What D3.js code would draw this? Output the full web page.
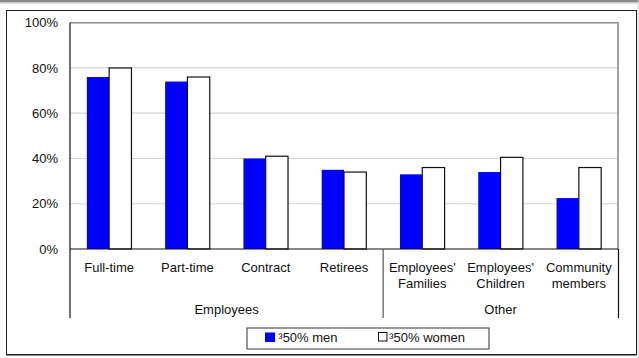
<!DOCTYPE html>
<html>
<head>
<meta charset="utf-8">
<script src="https://cdn.jsdelivr.net/npm/d3@7"></script>
<style>
  html, body { margin: 0; padding: 0; background: #fff; }
  svg { display: block; font-family: "Liberation Sans", Arial, sans-serif; }
</style>
</head>
<body>
<svg id="chart" width="639" height="358"></svg>
<script>
// Share of members by participant type
const categories = ["Full-time", "Part-time", "Contract", "Retirees",
  "Employees' Families", "Employees' Children", "Community members"];
const categoryLines = [["Full-time"], ["Part-time"], ["Contract"], ["Retirees"],
  ["Employees'", "Families"], ["Employees'", "Children"], ["Community", "members"]];
const categoryGroup = ["Employees", "Employees", "Employees", "Employees", "Other", "Other", "Other"];
const groupNames = ["Employees", "Other"];
const seriesNames = ["³50% men", "³50% women"];
const menValues = [76, 74, 40, 35, 33, 34, 22.5];
const womenValues = [80, 76, 41, 34, 36, 40.5, 36];
const yTicks = [0, 20, 40, 60, 80, 100];

const FS = 13;
const svg = d3.select("#chart");

// Page frame
svg.append("rect").attr("x", 0).attr("y", 0).attr("width", 639).attr("height", 2.5).attr("fill", "#8a8a8a");
svg.append("line").attr("x1", 0).attr("x2", 639).attr("y1", 3.5).attr("y2", 3.5).attr("stroke", "#e4e4e4");
svg.append("line").attr("x1", 638).attr("x2", 638).attr("y1", 0).attr("y2", 358).attr("stroke", "#d0d0d0");
svg.append("rect").attr("x", 6.5).attr("y", 10.5).attr("width", 630).attr("height", 344)
  .attr("fill", "none").attr("stroke", "#222").attr("stroke-width", 1);
svg.append("line").attr("x1", 6.5).attr("x2", 636.5).attr("y1", 355.5).attr("y2", 355.5).attr("stroke", "#888");

const plot = { left: 70, right: 618, top: 22.7, bottom: 249 };

const x = d3.scaleBand().domain(categories).range([plot.left, plot.right])
  .paddingInner(0.43).paddingOuter(0.215);
const xs = d3.scaleBand().domain(seriesNames).range([0, x.bandwidth()]);
const y = d3.scaleLinear().domain([0, 100]).range([plot.bottom, plot.top]);

// Gridlines
svg.append("g").selectAll("line").data(yTicks.filter(d => d > 0 && d < 100)).join("line")
  .attr("x1", plot.left).attr("x2", plot.right)
  .attr("y1", d => y(d)).attr("y2", d => y(d))
  .attr("stroke", "#d4d4d4").attr("stroke-width", 1.2);

// Plot frame (top & right)
svg.append("path")
  .attr("d", `M${plot.left},${y(100)}H${plot.right}V${plot.bottom}`)
  .attr("fill", "none").attr("stroke", "#8c8c8c").attr("stroke-width", 1.6);

// Y axis labels
const yAxis = d3.axisLeft(y).tickValues(yTicks).tickFormat(d => d + "%").tickSize(0).tickPadding(12);
const gy = svg.append("g").attr("transform", `translate(${plot.left},0)`).call(yAxis);
gy.select(".domain").remove();
gy.selectAll("text").attr("font-size", FS).attr("fill", "#111")
  .attr("font-family", "Liberation Sans, Arial, sans-serif");

// Bars
const rows = categories.map((c, i) => ({ c, vals: [menValues[i], womenValues[i]] }));
const fills = ["#0000ff", "#ffffff"];
const groups = svg.append("g").selectAll("g").data(rows).join("g")
  .attr("transform", d => `translate(${x(d.c)},0)`);
groups.selectAll("rect").data(d => d.vals.map((v, k) => ({ v, k }))).join("rect")
  .attr("x", d => xs(seriesNames[d.k]))
  .attr("width", xs.bandwidth())
  .attr("y", d => y(d.v))
  .attr("height", d => y(0) - y(d.v))
  .attr("fill", d => fills[d.k])
  .attr("stroke", d => d.k === 1 ? "#111" : "none")
  .attr("stroke-width", 1.2);

// Baseline and category axis
const step = x.step();
const edge = i => (i === 0 ? plot.left : x(categories[i]) - step * x.paddingInner() / 2);
svg.append("line").attr("x1", plot.left).attr("x2", plot.right)
  .attr("y1", y(0)).attr("y2", y(0)).attr("stroke", "#111").attr("stroke-width", 1.2);
svg.append("line").attr("x1", plot.left).attr("x2", plot.left)
  .attr("y1", y(100)).attr("y2", 318).attr("stroke", "#111").attr("stroke-width", 1.2);

const groupBounds = groupNames.map(g => {
  const idx = categories.map((c, i) => i).filter(i => categoryGroup[i] === g);
  const start = edge(idx[0]);
  const last = idx[idx.length - 1];
  const end = last === categories.length - 1 ? plot.right : edge(last + 1);
  return { g, start, end };
});
groupBounds.forEach((b, i) => {
  if (i > 0) {
    svg.append("line").attr("x1", b.start).attr("x2", b.start)
      .attr("y1", y(0)).attr("y2", 318).attr("stroke", "#555").attr("stroke-width", 1.2);
  }
});
svg.append("line").attr("x1", plot.right + 0.5).attr("x2", plot.right + 0.5)
  .attr("y1", y(0)).attr("y2", 318).attr("stroke", "#111").attr("stroke-width", 1.2);

// Category labels
const catText = svg.append("g").attr("font-size", FS).attr("fill", "#111").attr("text-anchor", "middle");
categories.forEach((c, i) => {
  const t = catText.append("text").attr("x", x(c) + x.bandwidth() / 2).attr("y", 272);
  categoryLines[i].forEach((line, j) => {
    t.append("tspan").attr("x", x(c) + x.bandwidth() / 2).attr("dy", j === 0 ? 0 : 15.5).text(line);
  });
});

// Group labels
svg.append("g").selectAll("text").data(groupBounds).join("text")
  .attr("x", d => (d.start + d.end) / 2).attr("y", 314)
  .attr("text-anchor", "middle").attr("font-size", FS).attr("fill", "#111")
  .text(d => d.g);

// Legend
const legend = svg.append("g");
legend.append("rect").attr("x", 247).attr("y", 328).attr("width", 242).attr("height", 21)
  .attr("fill", "#fff").attr("stroke", "#333").attr("stroke-width", 1);
const legendX = [265, 378.5];
seriesNames.forEach((s, k) => {
  legend.append("rect").attr("x", legendX[k]).attr("y", 332.5).attr("width", k === 0 ? 10 : 8.5).attr("height", k === 0 ? 9.5 : 8.5)
    .attr("fill", fills[k]).attr("stroke", k === 1 ? "#111" : "none").attr("stroke-width", 1);
  legend.append("text").attr("x", legendX[k] + (k === 0 ? 13.3 : 10.7)).attr("y", 342)
    .attr("font-size", FS).attr("fill", "#111").text(s);
});
</script>
</body>
</html>
